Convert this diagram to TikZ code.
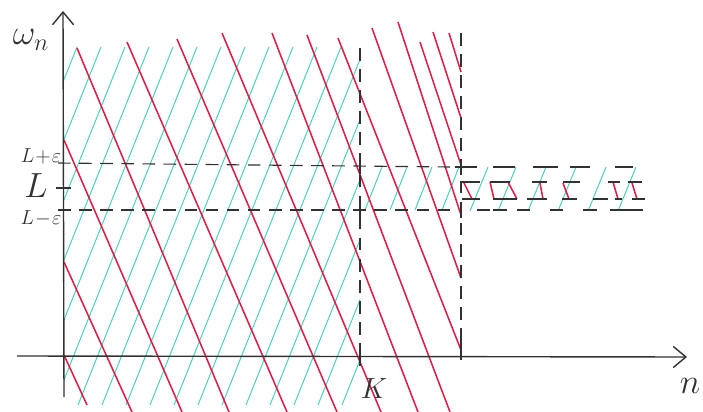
\documentclass[tikz,border=0pt]{standalone}
\usepackage{tikz}
\usetikzlibrary{arrows.meta}
\definecolor{pencil}{RGB}{50,50,50}
\definecolor{crimson}{RGB}{218,32,72}
\definecolor{aqua}{RGB}{76,208,188}

\begin{document}
\begin{tikzpicture}[x=0.025cm,y=-0.025cm,>={Straight Barb[length=9pt,width=15pt]},
 axis/.style={->,draw=pencil,line width=1pt},
 guide/.style={draw=pencil,line width=0.8pt,dash pattern=on 9pt off 6pt},
 tick/.style={draw=pencil,line width=0.9pt},
 rline/.style={draw=crimson,line width=1.1pt},
 cline/.style={draw=aqua,line width=0.7pt},
 lab/.style={text=pencil,inner sep=0pt}]
\useasboundingbox (0,0) rectangle (703,412);
% cyan hatching up to K
\begin{scope}
\clip (64,40) rectangle (360,406);
\foreach \t in {0,...,18} \draw[cline] ({77+24*\t},47) -- ++(-143,358);
\end{scope}
% cyan between L-eps and L+eps
\foreach \x in {365,390,415,442} \draw[cline] (\x,210) -- ++(17,-43);
\foreach \x in {470,498,528,558,588,618} \draw[cline] (\x,211) -- ++(18,-44);
% red lines
\foreach \xa/\ya/\xb/\yb in {64/355/87/405, 64/262/132/412, 64/140/182/412,
  77/48/229/412, 127/42/287/412, 177/39/337/412, 222/33/381/412,
  272/33/418/412, 307/35/450/412, 338/38/461/350, 372/28/461/278,
  398/22/461/215, 420/42/461/165, 433/32/461/118, 449/33/461/72}
  \draw[rline] (\xa,\ya) -- (\xb,\yb);
\foreach \xa/\ya/\xb/\yb in {463/181/472/199, 490/182/494/199, 508/182/517/199,
  540/183/543/199, 563/183/569/199, 613/182/618/199, 632/183/637/199}
  \draw[rline] (\xa,\ya) -- (\xb,\yb);
% dashed levels and bounds
\draw[guide] (58,163) -- (450,167);
\draw[guide] (58,210) -- (450,210);
\foreach \a/\b in {455/477, 493/515, 533/558, 570/590, 615/633} \draw[tick] (\a,167) -- (\b,167);
\foreach \a/\b in {462/480, 490/510, 532/547, 563/580, 608/620, 628/642} \draw[tick] (\a,182) -- (\b,182);
\foreach \a/\b in {462/480, 493/517, 527/547, 562/577, 593/608, 615/622, 632/645} \draw[tick] (\a,199) -- (\b,199);
\foreach \a/\b in {477/490, 493/507, 517/530, 550/563, 583/597, 610/643} \draw[tick] (\a,210) -- (\b,210);
\draw[guide] (360,48) -- (360,343);
\draw[guide] (461,33) -- (461,340);
\foreach \x/\y in {360/166, 360/210, 461/167, 461/210} \draw[tick] (\x,\y-8) -- (\x,\y+8);
\draw[tick] (360,343) -- (360,366);
\draw[tick] (461,340) -- (461,360);
\draw[tick] (56,188) -- (71,188);
% axes
\draw[axis] (64,397) -- (63,11);
\draw[axis] (17,356) -- (687,357);
\node[lab] (omega) at (31,40) {\fontsize{26}{26}\selectfont$\omega_n$};
\node[lab] (lup) at (41,156) {\Large$L\!+\!\varepsilon$};
\node[lab] (lmid) at (36,186) {\fontsize{24}{24}\selectfont$L$};
\node[lab] (ldown) at (41,218) {\Large$L\!-\!\varepsilon$};
\node[lab] (kay) at (374,389) {\huge$K$};
\node[lab] (enn) at (690,386) {\fontsize{24}{24}\selectfont$n$};
\end{tikzpicture}
\end{document}
